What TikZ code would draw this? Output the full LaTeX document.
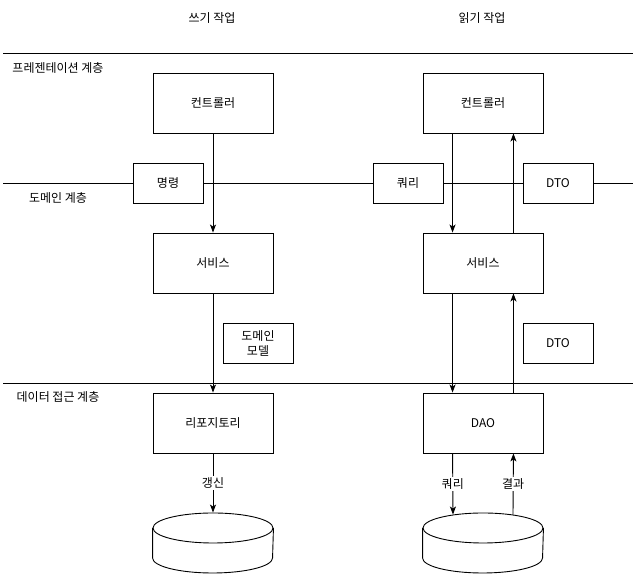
\documentclass[tikz,border=0pt]{standalone}
\usepackage{fontspec}
\setmainfont{Noto Sans CJK KR}
\usetikzlibrary{arrows.meta,shapes.geometric}
\tikzstyle{bigBox}=[shape = rectangle, draw, fill = white, minimum width = 120pt, minimum height = 60pt, inner sep = 0pt]
\tikzstyle{smallBox}=[shape = rectangle, draw, fill = white, minimum width = 70pt, minimum height = 40pt, inner sep = 0pt, align = center]
\tikzstyle{dbTop}=[shape = ellipse, draw, minimum width = 120pt, minimum height = 30pt, inner sep = 0pt]

\begin{document}
\begin{tikzpicture}[x = 1pt, y = 1pt, line width = 0.9pt, font = \fontsize{12}{15}\selectfont]
\tikzstyle{arr}=[-{Stealth[length = 8pt, width = 6pt, inset = 2pt]}]
\tikzstyle{layerLine}=[line width = 0.9pt]
\tikzstyle{edgeLabel}=[fill = white, inner sep = 1.5pt, midway]
\useasboundingbox (0,0) rectangle (638,577);
\node (wTitle) at (212,559) {쓰기 작업};
\node (rTitle) at (482,559) {읽기 작업};
\coordinate (l1a) at (3,524);
\coordinate (l1b) at (633,524);
\coordinate (l2a) at (3,394);
\coordinate (l2b) at (633,394);
\coordinate (l3a) at (3,194);
\coordinate (l3b) at (633,194);
\draw[layerLine] (l1a) -- (l1b);
\draw[layerLine] (l2a) -- (l2b);
\draw[layerLine] (l3a) -- (l3b);
\node (presLabel) at (58,509) {프레젠테이션 계층};
\node (domLabel) at (58,379) {도메인 계층};
\node (dataLabel) at (58,180) {데이터 접근 계층};
\node[style = bigBox] (wCtrl) at (213,474) {컨트롤러};
\node[style = bigBox] (rCtrl) at (483,474) {컨트롤러};
\node[style = smallBox] (cmd) at (168,394) {명령};
\node[style = smallBox] (qry) at (408,394) {쿼리};
\node[style = smallBox] (dto1) at (558,394) {DTO};
\node[style = bigBox] (wSvc) at (213,314) {서비스};
\node[style = bigBox] (rSvc) at (483,314) {서비스};
\node[style = smallBox] (model) at (258,234) {도메인\\모델};
\node[style = smallBox] (dto2) at (558,234) {DTO};
\node[style = bigBox] (repo) at (213,154) {리포지토리};
\node[style = bigBox] (dao) at (483,154) {DAO};
\node[style = dbTop] (db1) at (213,49) {};
\node[style = dbTop] (db2) at (483,49) {};
\draw (db1.west) -- ++(0,-30) arc[start angle = 180, end angle = 360, x radius = 60pt, y radius = 15pt] -- (db1.east);
\draw (db2.west) -- ++(0,-30) arc[start angle = 180, end angle = 360, x radius = 60pt, y radius = 15pt] -- (db2.east);
\draw[arr] (wCtrl) -- (wSvc);
\draw[arr] (wSvc) -- (repo);
\draw[arr] (repo) -- (db1) node[style = edgeLabel] {갱신};
\draw[arr] ([xshift = 30pt]rCtrl.south west) -- ([xshift = 30pt]rSvc.north west);
\draw[arr] ([xshift = -30pt]rSvc.north east) -- ([xshift = -30pt]rCtrl.south east);
\draw[arr] ([xshift = 30pt]rSvc.south west) -- ([xshift = 30pt]dao.north west);
\draw[arr] ([xshift = -30pt]dao.north east) -- ([xshift = -30pt]rSvc.south east);
\draw[arr] ([xshift = 30pt]dao.south west) -- ([xshift = -30pt, yshift = -2pt]db2.north) node[style = edgeLabel] {쿼리};
\draw[arr] ([xshift = 30pt, yshift = -2pt]db2.north) -- ([xshift = -30pt]dao.south east) node[style = edgeLabel] {결과};
\end{tikzpicture}
\end{document}
